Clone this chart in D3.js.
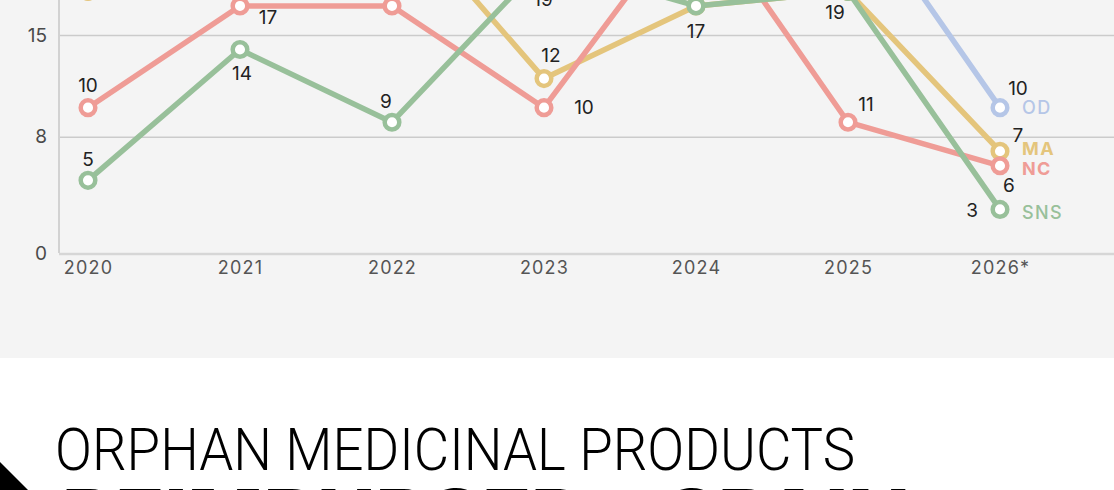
<!DOCTYPE html>
<html>
<head>
<meta charset="utf-8">
<script src="https://cdn.jsdelivr.net/npm/d3@7"></script>
<style>
  html, body { margin: 0; padding: 0; background: #ffffff; overflow: hidden; }
  svg { display: block; }
</style>
</head>
<body>
<svg id="chart" width="1114" height="490"></svg>
<script>
// ---------- data ----------
const years = ["2020", "2021", "2022", "2023", "2024", "2025", "2026*"];
const seriesNames = ["OD", "MA", "NC", "SNS"];
const odValues  = [22, 24, 25, 26, 28, 25, 10];
const maValues  = [18, 22, 24, 12, 17, 18, 7];
const ncValues  = [10, 17, 17, 10, 24, 9, 6];
const snsValues = [5, 14, 9, 20, 17, 18, 3];
const odLabels  = ["22", "24", "25", "26", "28", "25", "10"];
const maLabels  = ["18", "22", "24", "12", "17", "19", "7"];
const ncLabels  = ["10", "17", "17", "10", "24", "11", "6"];
const snsLabels = ["5", "14", "9", "19", "17", "18", "3"];
const yTicks = [0, 8, 15, 23, 30];
const titleLine1 = "ORPHAN MEDICINAL PRODUCTS";
const titleLine2 = "REIMBURSED \u2013 SPAIN";

// ---------- layout / style (not data) ----------
const colors = { OD: "#b5c6e7", MA: "#e4c57c", NC: "#ef9c96", SNS: "#98c09a" };
const endLabelWeight = { OD: 500, MA: 700, NC: 700, SNS: 500 };
const endLabelDy = { OD: 0, MA: -3, NC: 3, SNS: 3 };
const labelOffsets = {
  OD:  [[0,-22],[0,-22],[0,-22],[0,-22],[0,-22],[0,-22],[18,-19]],
  MA:  [[0,-22],[0,-22],[0,-22],[7,-23],[0,-22],[-13,21],[18,-16]],
  NC:  [[0,-22],[28,12],[0,-22],[40,0],[0,-22],[18,-18],[9,20]],
  SNS: [[0,-21],[2,24],[-6,-21],[-1,37],[0,26],[0,-22],[-28,1]]
};

const seriesData = {
  OD:  { values: odValues,  labels: odLabels },
  MA:  { values: maValues,  labels: maLabels },
  NC:  { values: ncValues,  labels: ncLabels },
  SNS: { values: snsValues, labels: snsLabels }
};

const W = 1114, H = 490;
const svg = d3.select("#chart");
const font = "Inter, 'Noto Sans', sans-serif";

// background panel
svg.append("rect").attr("x", 0).attr("y", 0).attr("width", W).attr("height", 358).attr("fill", "#f4f4f4");

const axisLeftX = 59;
const x = d3.scalePoint().domain(years).range([88, 1000]);
const y = d3.scaleLinear().domain([0, 30]).range([253, 253 - 30 * (218 / 15)]);
const visible = v => y(v) > -8;

// gridlines
const grid = svg.append("g").attr("transform", `translate(${axisLeftX},0)`)
  .call(d3.axisLeft(y).tickValues(yTicks.filter(d => d > 0)).tickSize(-(W - axisLeftX)).tickFormat(""));
grid.select(".domain").remove();
grid.selectAll(".tick line").attr("stroke", "#cbcbcb").attr("stroke-width", 1.6);

// y axis (labels only for ticks inside the picture)
const yAxis = svg.append("g").attr("transform", `translate(${axisLeftX},0)`)
  .call(d3.axisLeft(y).tickValues(yTicks.filter(visible)).tickSize(0).tickPadding(12).tickFormat(d3.format("d")));
yAxis.select(".domain").attr("d", `M0,${y(0)}V${y(30)}`).attr("stroke", "#d2d2d2").attr("stroke-width", 2);
yAxis.selectAll(".tick text").attr("font-family", font).attr("font-size", 19).attr("fill", "#4a4a4a");

// x axis
const xAxis = svg.append("g").attr("transform", `translate(0,${y(0) + 1})`)
  .call(d3.axisBottom(x).tickSize(0).tickPadding(7));
xAxis.select(".domain").attr("d", `M${axisLeftX},0H${W}`).attr("stroke", "#d6d6d6").attr("stroke-width", 2.5);
xAxis.selectAll(".tick text").attr("font-family", font).attr("font-size", 18).attr("fill", "#555").attr("letter-spacing", "1.2px");

const line = d3.line().x((d, i) => x(years[i])).y(d => y(d));

seriesNames.forEach(name => {
  const s = seriesData[name];
  const g = svg.append("g");
  g.append("path").datum(s.values).attr("d", line)
    .attr("fill", "none").attr("stroke", colors[name]).attr("stroke-width", 5.5)
    .attr("stroke-linejoin", "round").attr("stroke-linecap", "round");
  g.selectAll("circle").data(s.values).join("circle")
    .attr("cx", (d, i) => x(years[i])).attr("cy", d => y(d)).attr("r", 7.3)
    .attr("fill", "#ffffff").attr("stroke", colors[name]).attr("stroke-width", 4.5);
});

// value labels (only those that reach into the picture)
seriesNames.forEach(name => {
  const s = seriesData[name];
  const pts = s.values.map((v, i) => ({ v, i }))
    .filter(p => y(p.v) + labelOffsets[name][p.i][1] > -4);
  svg.append("g").selectAll("text").data(pts).join("text")
    .attr("x", p => x(years[p.i]) + labelOffsets[name][p.i][0])
    .attr("y", p => y(p.v) + labelOffsets[name][p.i][1])
    .attr("text-anchor", "middle").attr("dominant-baseline", "central")
    .attr("font-family", font).attr("font-size", 19).attr("fill", "#222")
    .text(p => s.labels[p.i]);
  const last = s.values.length - 1;
  svg.append("text")
    .attr("x", x(years[last]) + 22).attr("y", y(s.values[last]) + endLabelDy[name])
    .attr("dominant-baseline", "central")
    .attr("font-family", font).attr("font-size", 18).attr("font-weight", endLabelWeight[name])
    .attr("letter-spacing", "1.4px").attr("fill", colors[name]).text(name);
});

// bottom title
svg.append("text").attr("x", 55).attr("y", 470)
  .attr("font-family", "Roboto, Inter, sans-serif").attr("font-weight", 300).attr("font-size", 59)
  .attr("textLength", 800).attr("lengthAdjust", "spacingAndGlyphs").attr("fill", "#000")
  .text(titleLine1);
svg.append("text").attr("x", 62).attr("y", 541)
  .attr("font-family", "Inter, Roboto, sans-serif").attr("font-weight", 800).attr("font-size", 72)
  .attr("textLength", 848).attr("lengthAdjust", "spacingAndGlyphs").attr("fill", "#000")
  .text(titleLine2);

// black arrow mark
svg.append("path").attr("d", "M-12,450 L29,491 L-12,532 Z").attr("fill", "#000");
</script>
</body>
</html>
